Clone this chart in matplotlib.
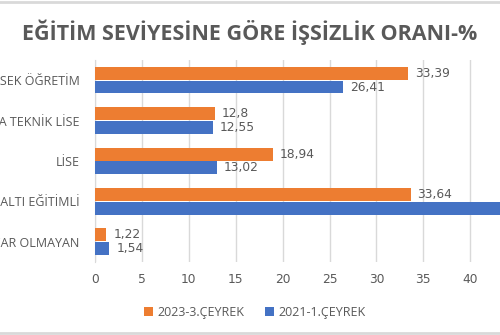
import numpy as np
import matplotlib.pyplot as plt

plt.rcParams['font.family'] = ['Open Sans', 'DejaVu Sans']
num_font = ['DejaVu Sans']

categories = ["YÜKSEK ÖĞRETİM", "MESLEKİ VEYA TEKNİK LİSE", "LİSE",
              "LİSE ALTI EĞİTİMLİ", "OKUR YAZAR OLMAYAN"]
q2023_3 = [33.39, 12.8, 18.94, 33.64, 1.22]
q2021_1 = [26.41, 12.55, 13.02, 45.10, 1.54]
labels_2023 = ["33,39", "12,8", "18,94", "33,64", "1,22"]
labels_2021 = ["26,41", "12,55", "13,02", "45,1", "1,54"]
xticks = [0, 5, 10, 15, 20, 25, 30, 35, 40, 45, 50]

orange = "#ED7D31"
blue = "#4472C4"
gray = "#595959"

fig = plt.figure(figsize=(5, 3.35), dpi=100)
ax = fig.add_axes([0.19, 0.218, 0.938, 0.603])

y = np.arange(len(categories))
h = 0.32
bo = ax.barh(y - h / 2 - 0.01, q2023_3, h, color=orange, label="2023-3.ÇEYREK", zorder=3)
bb = ax.barh(y + h / 2 + 0.01, q2021_1, h, color=blue, label="2021-1.ÇEYREK", zorder=3)

for bar, txt in zip(bo, labels_2023):
    ax.annotate(txt, xy=(bar.get_width(), bar.get_y() + bar.get_height() / 2),
                xytext=(5, 0), textcoords="offset points", va="center", ha="left",
                fontsize=8.8, color=gray, family=num_font)
for bar, txt in zip(bb, labels_2021):
    ax.annotate(txt, xy=(bar.get_width(), bar.get_y() + bar.get_height() / 2),
                xytext=(5, 0), textcoords="offset points", va="center", ha="left",
                fontsize=8.8, color=gray, family=num_font)

ax.set_ylim(len(categories) - 0.5, -0.5)
ax.set_xlim(0, 50)
ax.set_yticks(y)
ax.set_yticklabels(categories, fontsize=9, color=gray)
ax.set_xticks(xticks)
ax.set_xticklabels([str(t) for t in xticks], fontsize=8.8, color=gray, family=num_font)
ax.tick_params(axis="both", length=0, pad=8)
ax.tick_params(axis="y", pad=11)
ax.xaxis.grid(True, color="#D9D9D9", linewidth=1, zorder=0)
for s in ["top", "right", "bottom"]:
    ax.spines[s].set_visible(False)
ax.spines["left"].set_color("#D9D9D9")

fig.text(0.5, 0.905, "EĞİTİM SEVİYESİNE GÖRE İŞSİZLİK ORANI-%", ha="center", va="center",
         fontsize=15.5, fontweight="bold", color=gray)

handles, lbls = ax.get_legend_handles_labels()
fig.legend(handles, lbls, loc="center", bbox_to_anchor=(0.51, 0.068), ncol=2, frameon=False,
           fontsize=9, labelcolor=gray, handlelength=0.7, handleheight=0.7,
           handletextpad=0.4, columnspacing=1.6)

fig.add_artist(plt.Line2D([0, 1], [0.995, 0.995], color="#D9D9D9", lw=2))
fig.add_artist(plt.Line2D([0, 1], [0.005, 0.005], color="#D9D9D9", lw=2))

fig.savefig("out.png", dpi=100)
